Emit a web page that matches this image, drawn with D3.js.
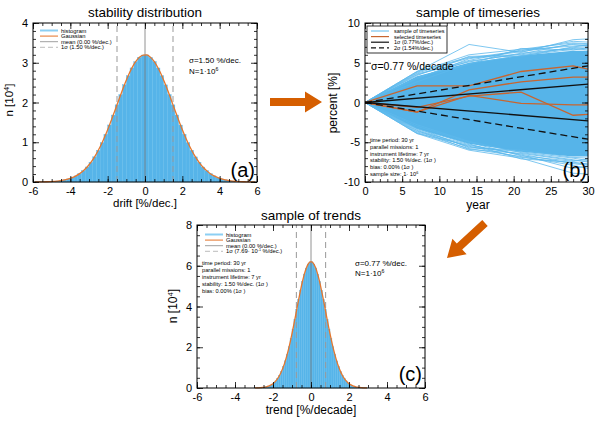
<!DOCTYPE html>
<html><head><meta charset="utf-8">
<script src="https://cdn.jsdelivr.net/npm/d3@7"></script>
<style>body{margin:0;background:#fff} svg text{font-family:"Liberation Sans",Arial,Helvetica,sans-serif;fill:#000}</style>
</head><body><svg id="c" width="600" height="421"></svg>
<script>
// ---------- DATA ----------
// (a) stability distribution: histogram counts [10^4], bins of 0.2 %/dec. from -6 to 6
const driftBinStart = -6, driftBinWidth = 0.2;
const driftHist = [0.001,0.002,0.004,0.006,0.010,0.015,0.024,0.036,0.053,0.076,0.109,0.153,0.210,0.285,0.378,0.494,0.633,0.798,0.988,1.201,1.435,1.684,1.941,2.198,2.446,2.673,2.870,3.027,3.137,3.193,
                   3.196,3.135,3.029,2.868,2.675,2.444,2.199,1.940,1.686,1.433,1.202,0.987,0.799,0.632,0.495,0.377,0.286,0.209,0.153,0.110,0.076,0.053,0.036,0.024,0.015,0.010,0.006,0.004,0.002,0.001];
const driftSigma = 1.5, driftMean = 0;
// (c) sample of trends: histogram counts [10^4], bins of 0.1 %/decade from -3 to 3
const trendBinStart = -3, trendBinWidth = 0.1;
const trendHist = [0.004,0.007,0.011,0.017,0.026,0.039,0.059,0.087,0.126,0.179,0.251,0.346,0.469,0.624,0.817,1.053,1.333,1.660,2.032,2.447,2.896,3.371,3.858,4.342,4.804,5.227,5.591,5.882,6.083,6.187,
                   6.190,6.080,5.885,5.589,5.229,4.801,4.344,3.856,3.373,2.894,2.449,2.030,1.661,1.332,1.054,0.816,0.625,0.468,0.347,0.250,0.180,0.125,0.088,0.058,0.040,0.026,0.017,0.011,0.007,0.004];
const trendSigma = 0.77, trendMean = 0;
// (b) sample of timeseries [%] at years
const years = [0, 7, 14, 21, 28, 30];
const fanUpper = [0, 3.3, 5.0, 5.9, 6.5, 6.5];
const fanLower = [0, -3.3, -5.2, -6.2, -6.8, -6.8];
const sampleSeries = [
  [0, 3.9, 7.3, 6.3, 7.9, 8.0],
  [0, 3.8, 6.0, 6.7, 7.5, 7.4],
  [0, 3.7, 5.6, 6.5, 7.7, 7.6],
  [0, 3.5, 5.3, 6.6, 7.1, 7.2],
  [0, 3.4, 5.8, 6.0, 6.9, 7.0],
  [0, 3.6, 5.1, 6.2, 6.8, 6.6],
  [0, 3.0, 5.5, 6.4, 7.3, 7.1],
  [0, 3.2, 4.8, 6.8, 6.6, 6.9],
  [0, 3.9, 5.7, 5.8, 7.0, 7.2],
  [0, 2.6, 4.9, 5.9, 6.7, 6.8],
  [0, 3.1, 5.2, 6.1, 7.4, 7.3],
  [0, -3.9, -6.0, -7.0, -8.9, -9.0],
  [0, -3.8, -5.8, -6.8, -7.9, -8.3],
  [0, -3.7, -5.5, -6.9, -7.6, -7.7],
  [0, -3.5, -5.9, -6.4, -7.3, -7.4],
  [0, -3.6, -5.3, -6.6, -8.3, -8.0],
  [0, -3.4, -5.6, -6.2, -7.0, -7.3],
  [0, -3.0, -5.0, -6.7, -7.4, -7.1],
  [0, -3.2, -5.7, -6.0, -6.9, -7.0],
  [0, -3.9, -5.4, -6.5, -7.7, -7.9],
  [0, -2.8, -4.9, -6.3, -7.2, -7.5],
  [0, -3.3, -5.2, -7.1, -7.5, -7.8]
];
const selectedSeries = [
  [0, 2.1, 2.1, 3.9, 4.6, 4.2],
  [0, -1.2, 1.6, 2.6, 3.2, 3.2],
  [0, -0.6, 0.8, 1.3, -1.6, -1.5],
  [0, -1.2, 0.9, -0.1, -0.3, -0.3]
];
const trendYears = [0, 30];
const oneSigma = [0, 2.31];
const twoSigma = [0, 4.62];
// tick values
const driftTicks = [-6,-4,-2,0,2,4,6], nTicksA = [0,1,2,3,4];
const yearTicks = [0,5,10,15,20,25,30], percentTicks = [-10,-5,0,5,10];
const trendTicks = [-6,-4,-2,0,2,4,6], nTicksC = [0,2,4,6,8];

// ---------- DRAW ----------
const svg = d3.select("#c");
const BLUE = "#56B4E9", ORANGE = "#E5772E", SEL = "#C8652F", ARROW = "#D55E00";
const fmt = d => String(d);

function axes(g, x, y, xt, xstep, yt, ystep, fs) {
  const [xa, xb] = x.range(), [yb, ya] = y.range();
  const xd = x.domain(), yd = y.domain();
  const xm = d3.range(Math.round((xd[1]-xd[0])/xstep)+1).map(i => +(xd[0]+i*xstep).toFixed(4));
  const ym = d3.range(Math.round((yd[1]-yd[0])/ystep)+1).map(i => +(yd[0]+i*ystep).toFixed(4));
  const mk = (axis, tr, vals, size, labels) => {
    const a = g.append("g").attr("transform", tr)
      .call(axis.tickValues(vals).tickSize(size).tickSizeOuter(0).tickPadding(labels ? 5 : 0).tickFormat(labels ? fmt : ""));
    a.select(".domain").remove();
    a.selectAll("line").attr("stroke", "#000").attr("stroke-width", 0.8);
    a.selectAll("text").attr("font-size", fs || 11).style("font-family", "'Liberation Sans',Arial,sans-serif");
  };
  mk(d3.axisBottom(x), `translate(0,${yb})`, xt, -6, true);
  mk(d3.axisBottom(x), `translate(0,${yb})`, xm, -3, false);
  mk(d3.axisTop(x), `translate(0,${ya})`, xt, -6, false);
  mk(d3.axisTop(x), `translate(0,${ya})`, xm, -3, false);
  mk(d3.axisLeft(y), `translate(${xa},0)`, yt, -6, true);
  mk(d3.axisLeft(y), `translate(${xa},0)`, ym, -3, false);
  mk(d3.axisRight(y), `translate(${xb},0)`, yt, -6, false);
  mk(d3.axisRight(y), `translate(${xb},0)`, ym, -3, false);
  g.append("rect").attr("x", xa).attr("y", ya).attr("width", xb - xa).attr("height", yb - ya)
    .attr("fill", "none").attr("stroke", "#000").attr("stroke-width", 1);
}

function text(g, x, y, s, fs, anchor) {
  return g.append("text").attr("x", x).attr("y", y).attr("font-size", fs).attr("text-anchor", anchor || "start").text(s);
}
function fill(t, parts, fs) {
  parts.forEach(p => {
    if (p.sup) t.append("tspan").attr("dy", -fs * 0.35).attr("font-size", fs * 0.65).text(p.sup);
    else t.append("tspan").attr("dy", p.back ? fs * 0.35 : 0).text(p.t);
  });
}
function supText(g, x, y, parts, fs, anchor, rotate) {
  const t = g.append("text").attr("x", x).attr("y", y).attr("font-size", fs).attr("text-anchor", anchor || "start");
  if (rotate) t.attr("transform", `rotate(-90,${x},${y})`);
  fill(t, parts, fs);
  return t;
}

function histPanel(opt) {
  const g = svg.append("g");
  const x = d3.scaleLinear().domain([-6, 6]).range(opt.xr);
  const y = d3.scaleLinear().domain(opt.yd).range(opt.yr);
  const bins = opt.hist.map((v, i) => ({ x0: opt.binStart + i * opt.binW, x1: opt.binStart + (i + 1) * opt.binW, v }));
  g.selectAll("rect.bar").data(bins).join("rect").attr("class", "bar")
    .attr("x", d => x(d.x0)).attr("width", d => x(d.x1) - x(d.x0))
    .attr("y", d => y(d.v)).attr("height", d => y(0) - y(d.v))
    .attr("fill", BLUE).attr("stroke", "#62bbec").attr("stroke-width", 0.4);
  [opt.mean - opt.sigma, opt.mean + opt.sigma].forEach(s => {
    g.append("line").attr("x1", x(s)).attr("x2", x(s)).attr("y1", opt.yr[0]).attr("y2", opt.yr[1])
      .attr("stroke", "#999").attr("stroke-width", 1).attr("stroke-dasharray", "6,4");
  });
  g.append("line").attr("x1", x(opt.mean)).attr("x2", x(opt.mean)).attr("y1", opt.yr[0]).attr("y2", opt.yr[1])
    .attr("stroke", "#777").attr("stroke-width", 0.8);
  const line = d3.line().x(d => x((d.x0 + d.x1) / 2)).y(d => y(d.v)).curve(d3.curveMonotoneX);
  g.append("path").attr("d", line(bins)).attr("fill", "none").attr("stroke", ORANGE).attr("stroke-width", 1.3);
  axes(g, x, y, opt.xt, 0.5, opt.yt, opt.ystep, 11);
  return { g, x, y };
}

// ---- panel (a)
const A = histPanel({ xr: [33, 257], yr: [182, 23], yd: [0, 4], hist: driftHist, binStart: driftBinStart, binW: driftBinWidth,
  sigma: driftSigma, mean: driftMean, xt: driftTicks, yt: nTicksA, ystep: 0.2 });
text(A.g, 145, 17, "stability distribution", 13.5, "middle");
text(A.g, 145, 207, "drift [%/dec.]", 11.5, "middle");
supText(A.g, 13, 100, [{ t: "n [10" }, { sup: "4" }, { t: "]", back: true }], 11.5, "middle", true);
text(A.g, 255, 177, "(a)", 20, "end");
text(A.g, 189, 63, "σ=1.50 %/dec.", 8);
supText(A.g, 189, 74, [{ t: "N=1·10" }, { sup: "6" }], 8);

function legendHist(g, x0, y0, dy, labels) {
  const items = [
    { c: "#8ccff3", w: 2, d: null },
    { c: "#E8884A", w: 1.2, d: null },
    { c: "#888", w: 0.8, d: null },
    { c: "#aaa", w: 0.8, d: "5,3" }
  ];
  items.forEach((it, i) => {
    const yy = y0 + i * dy;
    g.append("line").attr("x1", x0).attr("x2", x0 + 18).attr("y1", yy).attr("y2", yy)
      .attr("stroke", it.c).attr("stroke-width", it.w).attr("stroke-dasharray", it.d);
    const t = g.append("text").attr("x", x0 + 21).attr("y", yy + 2).attr("font-size", 5.8);
    fill(t, labels[i], 5.8);
  });
}
legendHist(A.g, 40, 30.5, 5.6, [[{ t: "histogram" }], [{ t: "Gaussian" }], [{ t: "mean (0.00 %/dec.)" }], [{ t: "1σ  (1.50 %/dec.)" }]]);

// ---- panel (c)
const C = histPanel({ xr: [197, 425], yr: [388, 225], yd: [0, 8], hist: trendHist, binStart: trendBinStart, binW: trendBinWidth,
  sigma: trendSigma, mean: trendMean, xt: trendTicks, yt: nTicksC, ystep: 0.5 });
text(C.g, 311, 220, "sample of trends", 13.5, "middle");
text(C.g, 311, 414, "trend [%/decade]", 12, "middle");
supText(C.g, 177, 306, [{ t: "n [10" }, { sup: "4" }, { t: "]", back: true }], 12, "middle", true);
text(C.g, 422, 381, "(c)", 20, "end");
text(C.g, 355, 266, "σ=0.77 %/dec.", 8);
supText(C.g, 355, 276, [{ t: "N=1·10" }, { sup: "6" }], 8);
legendHist(C.g, 205, 234.5, 5.6, [[{ t: "histogram" }], [{ t: "Gaussian" }], [{ t: "mean (0.00 %/dec.)" }], [{ t: "1σ  (7.69· 10" }, { sup: "-1" }, { t: " %/dec.)", back: true }]]);
const infoC = ["time period: 30 yr", "parallel missions: 1", "instrument lifetime: 7 yr", "stability: 1.50 %/dec. (1σ )", "bias: 0.00% (1σ )"];
infoC.forEach((s, i) => text(C.g, 202, 265 + i * 7, s, 5.7));

// ---- panel (b)
const B = svg.append("g");
const xb = d3.scaleLinear().domain([0, 30]).range([365, 588]);
const yb = d3.scaleLinear().domain([-10, 10]).range([182, 23]);
B.append("defs").append("clipPath").attr("id", "clipB").append("rect")
  .attr("x", 365).attr("y", 23).attr("width", 223).attr("height", 159);
const pb = B.append("g").attr("clip-path", "url(#clipB)");
const area = d3.area().x((d, i) => xb(years[i])).y0((d, i) => yb(fanLower[i])).y1(d => yb(d));
pb.append("path").attr("d", area(fanUpper)).attr("fill", BLUE);
const ln = d3.line().x((d, i) => xb(years[i])).y(d => yb(d));
pb.selectAll("path.s").data(sampleSeries).join("path").attr("class", "s").attr("d", ln)
  .attr("fill", "none").attr("stroke", "#5DB9EC").attr("stroke-width", 0.8);
pb.selectAll("path.o").data(selectedSeries).join("path").attr("class", "o").attr("d", ln)
  .attr("fill", "none").attr("stroke", SEL).attr("stroke-width", 1.3);
const tl = d3.line().x((d, i) => xb(trendYears[i])).y(d => yb(d));
[1, -1].forEach(sg => {
  pb.append("path").attr("d", tl(oneSigma.map(v => sg * v))).attr("fill", "none").attr("stroke", "#111").attr("stroke-width", 1.3);
  pb.append("path").attr("d", tl(twoSigma.map(v => sg * v))).attr("fill", "none").attr("stroke", "#111").attr("stroke-width", 1.3).attr("stroke-dasharray", "7,4");
});
axes(B, xb, yb, yearTicks, 1, percentTicks, 1, 11);
text(B, 478, 17, "sample of timeseries", 13.5, "middle");
text(B, 478, 209, "year", 12, "middle");
text(B, 0, 0, "percent [%]", 12, "middle").attr("transform", "translate(337,103) rotate(-90)");
text(B, 587, 177, "(b)", 20, "end");
text(B, 371, 70, "σ=0.77 %/decade", 10.5);
B.append("rect").attr("x", 367).attr("y", 26).attr("width", 80).attr("height", 27).attr("fill", "#fff").attr("stroke", "#000").attr("stroke-width", 0.8);
const legB = [
  { c: "#5DB9EC", d: null, w: 1, t: "sample of timeseries" },
  { c: SEL, d: null, w: 1.2, t: "selected timeseries" },
  { c: "#111", d: null, w: 1.2, t: "1σ  (0.77%/dec.)" },
  { c: "#111", d: "5,3", w: 1.2, t: "2σ  (1.54%/dec.)" }
];
legB.forEach((it, i) => {
  const yy = 31 + i * 5.6;
  B.append("line").attr("x1", 371).attr("x2", 389).attr("y1", yy).attr("y2", yy)
    .attr("stroke", it.c).attr("stroke-width", it.w).attr("stroke-dasharray", it.d);
  text(B, 394, yy + 2, it.t, 5.5);
});
const infoB = ["time period: 30 yr", "parallel missions: 1", "instrument lifetime: 7 yr", "stability: 1.50 %/dec. (1σ )", "bias: 0.00% (1σ )"];
infoB.forEach((s, i) => text(B, 370, 142 + i * 6.8, s, 5.7));
supText(B, 370, 142 + 5 * 6.8, [{ t: "sample size: 1· 10" }, { sup: "6" }], 5.7);

// ---- arrows
function arrow(x1, y1, x2, y2) {
  const dx = x2 - x1, dy = y2 - y1, L = Math.hypot(dx, dy), ux = dx / L, uy = dy / L, px = -uy, py = ux;
  const sw = 4, hw = 10.5, hl = 17;
  const bx = x2 - ux * hl, by = y2 - uy * hl;
  const pts = [[x1 + px * sw, y1 + py * sw], [bx + px * sw, by + py * sw], [bx + px * hw, by + py * hw], [x2, y2],
               [bx - px * hw, by - py * hw], [bx - px * sw, by - py * sw], [x1 - px * sw, y1 - py * sw]];
  svg.append("path").attr("d", "M" + pts.map(p => p.join(",")).join("L") + "Z").attr("fill", ARROW);
}
arrow(270, 102, 322, 102);
arrow(485, 223, 447, 258);
</script></body></html>
